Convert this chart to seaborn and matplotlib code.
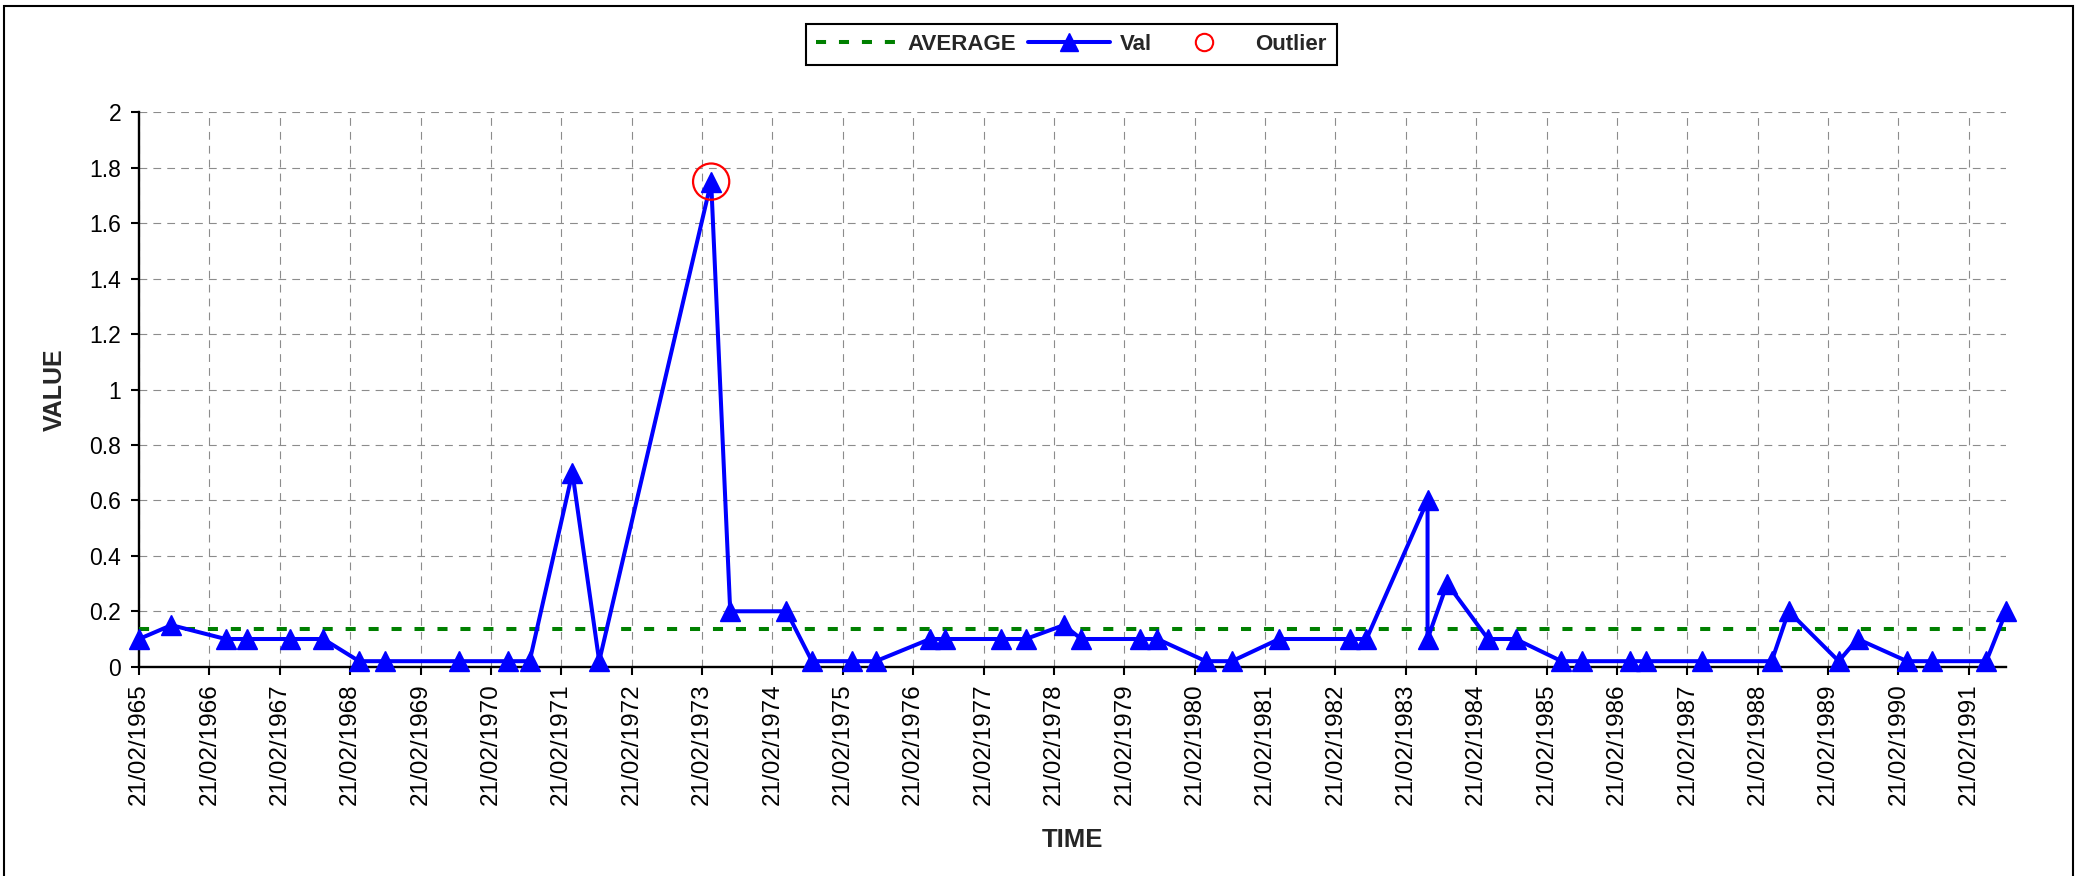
import numpy as np
import pandas as pd
import matplotlib
matplotlib.use("Agg")
import matplotlib.pyplot as plt
import matplotlib.dates as mdates
from matplotlib.lines import Line2D
from matplotlib.patches import Rectangle
from matplotlib.ticker import FuncFormatter
import seaborn as sns

# ---------------- data ----------------
dates = [
    "1965-02-21", "1965-08-08", "1966-05-16", "1966-09-03", "1967-04-13",
    "1967-10-05", "1968-04-08", "1968-08-18", "1969-09-10", "1970-05-20",
    "1970-09-10", "1971-04-20", "1971-09-06", "1973-04-09", "1973-07-17",
    "1974-05-05", "1974-09-14", "1975-04-09", "1975-08-12", "1976-05-19",
    "1976-08-03", "1977-05-20", "1977-09-28", "1978-04-13", "1978-07-13",
    "1979-05-16", "1979-08-12", "1980-04-19", "1980-09-02", "1981-05-05",
    "1982-05-09", "1982-08-01", "1983-06-14", "1983-06-14", "1983-09-24",
    "1984-04-23", "1984-09-13", "1985-05-09", "1985-08-26", "1986-04-28",
    "1986-07-24", "1987-05-09", "1988-05-04", "1988-07-31", "1989-04-17",
    "1989-07-24", "1990-04-06", "1990-08-12", "1991-05-23", "1991-09-03",
]
values = [
    0.10, 0.15, 0.10, 0.10, 0.10,
    0.10, 0.02, 0.02, 0.02, 0.02,
    0.02, 0.70, 0.02, 1.75, 0.20,
    0.20, 0.02, 0.02, 0.02, 0.10,
    0.10, 0.10, 0.10, 0.15, 0.10,
    0.10, 0.10, 0.02, 0.02, 0.10,
    0.10, 0.10, 0.60, 0.10, 0.30,
    0.10, 0.10, 0.02, 0.02, 0.02,
    0.02, 0.02, 0.02, 0.20, 0.02,
    0.10, 0.02, 0.02, 0.02, 0.20,
]
outlier_dates = ["1973-04-09"]
outlier_values = [1.75]
y_ticks = [0, 0.2, 0.4, 0.6, 0.8, 1.0, 1.2, 1.4, 1.6, 1.8, 2.0]

series_label = "Val"
avg_label = "AVERAGE"
outlier_label = "Outlier"
x_title = "TIME"
y_title = "VALUE"

# ---------------- style ----------------
sns.set_style("white")
plt.rcParams["font.family"] = ["Liberation Sans", "DejaVu Sans"]

df = pd.DataFrame({"date": pd.to_datetime(dates), "value": values})
df_out = pd.DataFrame({"date": pd.to_datetime(outlier_dates), "value": outlier_values})
avg = float(np.mean(values))

fig = plt.figure(figsize=(20.85, 8.76), dpi=100)
ax = fig.add_axes([0.0667, 0.2389, 0.8955, 0.6329])

BLUE = "#0000FF"
GREEN = "#008000"
RED = "#FF0000"
LW = 2.9

# average line
d0, d1 = df["date"].min(), df["date"].max()
avg_df = pd.DataFrame({"date": [d0, d1], "value": [avg, avg]})
sns.lineplot(data=avg_df, x="date", y="value", ax=ax, color=GREEN,
             linewidth=LW, estimator=None, sort=False, legend=False)
ax.lines[-1].set_dashes((2.5, 3.2))
ax.lines[-1].set_zorder(3)

# main series
sns.lineplot(data=df, x="date", y="value", ax=ax, color=BLUE, linewidth=LW,
             marker="^", markersize=15, markeredgecolor=BLUE, markerfacecolor=BLUE,
             markeredgewidth=1, estimator=None, sort=False, legend=False)
ax.lines[-1].set_clip_on(False)
ax.lines[-1].set_zorder(4)

# outlier
sns.scatterplot(data=df_out, x="date", y="value", ax=ax, marker="o", s=680,
                facecolors="none", edgecolors=RED, linewidths=1.6, legend=False,
                zorder=5, clip_on=False)

# axes
ax.set_xlim(d0, d1)
ax.set_ylim(0, 2)
ax.set_yticks(y_ticks)
ax.yaxis.set_major_formatter(FuncFormatter(lambda v, p: f"{v:g}"))
ax.xaxis.set_major_locator(mdates.YearLocator(base=1, month=2, day=21))
ax.xaxis.set_major_formatter(mdates.DateFormatter("%d/%m/%Y"))
for lab in ax.get_xticklabels():
    lab.set_rotation(90)

ax.grid(True, which="major", axis="both", color="#8c8c8c", linestyle=(0, (7, 5.5)),
        linewidth=0.8)
ax.set_axisbelow(True)

for s in ["top", "right"]:
    ax.spines[s].set_visible(False)
for s in ["left", "bottom"]:
    ax.spines[s].set_color("black")
    ax.spines[s].set_linewidth(1.7)

ax.tick_params(axis="both", which="major", direction="out", length=6, width=1.5,
               color="black", labelcolor="black")
ax.tick_params(axis="x", pad=6, bottom=True, labelsize=17.5)
ax.tick_params(axis="y", pad=7, left=True, labelsize=16.5)

ax.set_xlabel(x_title, fontsize=18.5, fontweight="bold")
ax.set_ylabel(y_title, fontsize=18, fontweight="bold")
ax.xaxis.set_label_coords(0.5, -0.29)
ax.yaxis.set_label_coords(-0.0386, 0.5)

# legend
handles = [
    Line2D([0], [0], color=GREEN, linewidth=LW, dashes=(2.5, 3.2)),
    Line2D([0], [0], color=BLUE, linewidth=LW, marker="^", markersize=13,
           markerfacecolor=BLUE, markeredgecolor=BLUE),
    Line2D([0], [0], linestyle="none", marker="o", markersize=12.5,
           markerfacecolor="none", markeredgecolor=RED, markeredgewidth=1.5),
]
leg = fig.legend(handles, [avg_label, series_label, outlier_label],
                 loc="center", bbox_to_anchor=(0.5137, 0.9492), ncol=3,
                 frameon=True, fancybox=False, shadow=False, framealpha=1,
                 edgecolor="black", handlelength=3.7, handletextpad=0.45,
                 columnspacing=0.5, borderpad=0.45,
                 prop={"weight": "bold", "size": 16})
leg.get_frame().set_linewidth(1.5)

# outer border
fig.patches.append(Rectangle((3.5 / 2085, -0.05), (2073 - 3.5) / 2085, 1.05 - 6 / 876,
                             transform=fig.transFigure, fill=False,
                             edgecolor="black", linewidth=1.5))

fig.savefig("out.png", dpi=100)
